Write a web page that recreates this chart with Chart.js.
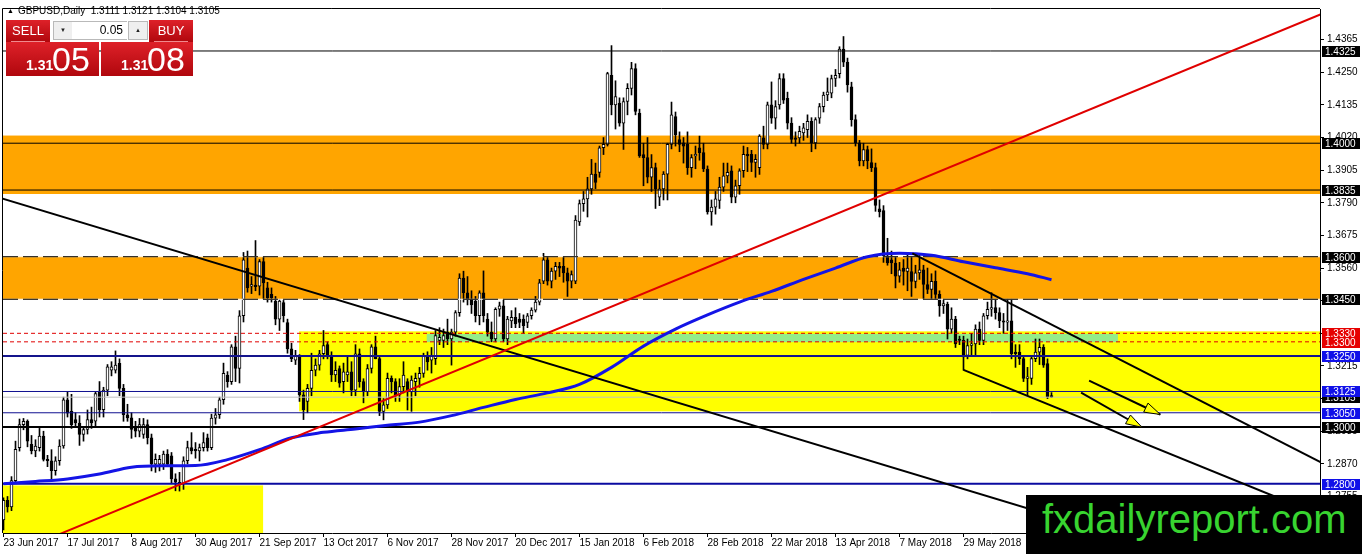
<!DOCTYPE html>
<html lang="en">
<head>
  <meta charset="UTF-8" />
  <title>GBPUSD, Daily</title>
  <script src="https://cdn.jsdelivr.net/npm/chart.js"></script>
  <style>
    html, body { margin: 0; padding: 0; background: #fff; }
    #wrap { position: relative; width: 1362px; height: 554px; overflow: hidden; font-family: 'Liberation Sans', Arial, sans-serif; }
    canvas { position: absolute; left: 0; top: 0; }
    .abs { position: absolute; }
    #head { left: 7px; top: 5px; font-size: 10px; line-height: 12px; color: #000; white-space: nowrap; }
    #head .tri { font-size: 7px; margin-right: 4px; vertical-align: 1px; }
    .red { background: linear-gradient(#de2129, #b0070d); color: #fff; }
    .btn { top: 20px; width: 44px; height: 22px; font-size: 13px; line-height: 21px; text-align: center; }
    .btn::after { content: ''; position: absolute; left: 5px; right: 5px; bottom: 0; height: 1px; background: #f08a8e; }
    #sellBtn { left: 6px; }
    #buyBtn { left: 149px; }
    .spin { top: 21px; width: 18px; height: 17px; background: #efefef; border: 1px solid #b9b9b9; font-size: 6px; line-height: 17px; text-align: center; color: #222; }
    #down { left: 53px; }
    #up { left: 128px; }
    #lot { left: 72px; top: 21px; width: 51px; height: 17px; padding-right: 4px; background: #fff; border-top: 1px solid #b9b9b9; border-bottom: 1px solid #b9b9b9; font-size: 12px; line-height: 17px; text-align: right; color: #000; }
    .px { top: 42px; height: 34px; }
    #sellPx { left: 6px; width: 93px; }
    #buyPx { left: 101px; width: 92px; }
    .px .s { position: absolute; left: 20px; top: 16px; font-size: 14px; line-height: 14px; font-weight: bold; }
    .px .b { position: absolute; left: 46px; top: 0; font-size: 34px; line-height: 34px; }
    #logo { left: 1026px; top: 495px; width: 336px; height: 59px; background: #000; }
    #logo span { position: absolute; left: 16px; top: 4px; font-size: 40px; line-height: 40px; color: #38d430; white-space: nowrap; }
  </style>
</head>
<body>
<div id="wrap">
  <canvas id="chart" width="1362" height="554"></canvas>
  <div id="head" class="abs"><span class="tri">&#9650;</span>GBPUSD,Daily&nbsp; 1.3111 1.3121 1.3104 1.3105</div>
  <div id="sellBtn" class="abs red btn">SELL</div>
  <div id="down" class="abs spin">&#9660;</div>
  <div id="lot" class="abs">0.05</div>
  <div id="up" class="abs spin">&#9650;</div>
  <div id="buyBtn" class="abs red btn">BUY</div>
  <div id="sellPx" class="abs red px"><span class="s">1.31</span><span class="b">05</span></div>
  <div id="buyPx" class="abs red px"><span class="s">1.31</span><span class="b">08</span></div>
  <div id="logo" class="abs"><span>fxdailyreport.com</span></div>
</div>

<script>
  // Daily bars, 23 Jun 2017 .. 28 Jun 2018 (bar index = position on the time axis)
  const opens = [
    1.2672,1.2741,1.2718,1.2811,1.2927,1.3008,1.3020,1.2939,1.2916,1.2927,
    1.2968,1.2886,1.2881,1.2846,1.2881,1.2933,1.3096,1.3055,1.3026,1.3014,
    1.2974,1.2991,1.3026,1.3020,1.3124,1.3061,1.3130,1.3200,1.3200,1.3224,
    1.3136,1.3043,1.3032,1.2997,1.2985,1.2974,1.3008,1.2962,1.2869,1.2869,
    1.2869,1.2904,1.2898,1.2817,1.2805,1.2799,1.2881,1.2927,1.2921,1.2916,
    1.2927,1.2962,1.2927,1.3031,1.3043,1.3096,1.3183,1.3160,1.3282,1.3206,
    1.3392,1.3560,1.3496,1.3500,1.3496,1.3583,1.3490,1.3467,1.3443,1.3380,
    1.3438,1.3368,1.3275,1.3235,1.3247,1.3113,1.3090,1.3136,1.3200,1.3218,
    1.3258,1.3290,1.3252,1.3183,1.3206,1.3160,1.3183,1.3194,1.3130,1.3258,
    1.3160,1.3124,1.3206,1.3282,1.3241,1.3055,1.3078,1.3171,1.3160,1.3113,
    1.3142,1.3160,1.3124,1.3160,1.3171,1.3189,1.3247,1.3235,1.3241,1.3305,
    1.3305,1.3334,1.3310,1.3334,1.3403,1.3525,1.3473,1.3450,1.3444,1.3392,
    1.3473,1.3380,1.3334,1.3310,1.3415,1.3427,1.3310,1.3374,1.3386,1.3380,
    1.3380,1.3368,1.3392,1.3412,1.3440,1.3514,1.3589,1.3514,1.3549,1.3566,
    1.3566,1.3543,1.3514,1.3514,1.3723,1.3787,1.3804,1.3839,1.3891,1.3897,
    1.3984,1.3996,1.4239,1.4135,1.4141,1.4071,1.4147,1.4193,1.4263,1.4106,
    1.3960,1.3949,1.3880,1.3914,1.3810,1.3839,1.3891,1.3996,1.4094,1.4013,
    1.4001,1.3996,1.3914,1.3955,1.3984,1.3967,1.3909,1.3758,1.3775,1.3798,
    1.3845,1.3885,1.3903,1.3810,1.3850,1.3903,1.3961,1.3961,1.3932,1.3914,
    1.4019,1.3996,1.4135,1.4088,1.4135,1.4228,1.4158,1.4071,1.4019,1.4019,
    1.4036,1.4048,1.4077,1.4001,1.4088,1.4129,1.4170,1.4176,1.4228,1.4245,
    1.4332,1.4286,1.4199,1.4083,1.4001,1.3938,1.3978,1.3932,1.3914,1.3769,
    1.3763,1.3601,1.3589,1.3578,1.3531,1.3560,1.3548,1.3548,1.3513,1.3543,
    1.3554,1.3502,1.3485,1.3513,1.3467,1.3427,1.3432,1.3345,1.3380,1.3310,
    1.3305,1.3252,1.3287,1.3293,1.3345,1.3305,1.3392,1.3415,1.3421,1.3403,
    1.3374,1.3369,1.3374,1.3264,1.3264,1.3241,1.3171,1.3171,1.3241,1.3264,
    1.3281,1.3223,1.3111
  ];
  const highs = [
    1.2750,1.2755,1.2825,1.2950,1.3028,1.3030,1.3025,1.2970,1.2955,1.2995,
    1.2985,1.2900,1.2920,1.2895,1.2955,1.3105,1.3125,1.3115,1.3050,1.3040,
    1.3000,1.3060,1.3070,1.3125,1.3160,1.3140,1.3220,1.3230,1.3268,1.3240,
    1.3150,1.3080,1.3050,1.3020,1.3030,1.3030,1.3025,1.2975,1.2905,1.2900,
    1.2915,1.2920,1.2910,1.2835,1.2840,1.2895,1.2950,1.2980,1.2945,1.2940,
    1.2980,1.2975,1.3045,1.3065,1.3105,1.3225,1.3195,1.3290,1.3320,1.3410,
    1.3615,1.3620,1.3530,1.3657,1.3590,1.3600,1.3510,1.3490,1.3460,1.3450,
    1.3446,1.3380,1.3295,1.3270,1.3255,1.3130,1.3150,1.3260,1.3240,1.3270,
    1.3340,1.3300,1.3265,1.3230,1.3215,1.3225,1.3250,1.3230,1.3290,1.3275,
    1.3170,1.3220,1.3290,1.3320,1.3250,1.3100,1.3190,1.3180,1.3170,1.3170,
    1.3230,1.3170,1.3180,1.3190,1.3210,1.3260,1.3265,1.3280,1.3340,1.3350,
    1.3345,1.3380,1.3345,1.3410,1.3540,1.3549,1.3530,1.3480,1.3460,1.3480,
    1.3550,1.3400,1.3370,1.3420,1.3440,1.3450,1.3390,1.3410,1.3420,1.3400,
    1.3395,1.3400,1.3420,1.3460,1.3520,1.3612,1.3600,1.3560,1.3580,1.3580,
    1.3600,1.3560,1.3550,1.3745,1.3800,1.3830,1.3880,1.3943,1.3930,1.3990,
    1.4020,1.4250,1.4344,1.4220,1.4160,1.4160,1.4210,1.4285,1.4280,1.4120,
    1.4000,1.4020,1.3960,1.3930,1.3870,1.3900,1.4000,1.4145,1.4110,1.4040,
    1.4020,1.4040,1.3960,1.3990,1.4025,1.4000,1.3920,1.3800,1.3830,1.3880,
    1.3930,1.3930,1.3920,1.3870,1.3910,1.3990,1.3985,1.3975,1.3960,1.4030,
    1.4060,1.4145,1.4216,1.4150,1.4245,1.4245,1.4180,1.4090,1.4040,1.4060,
    1.4070,1.4100,1.4090,1.4090,1.4140,1.4180,1.4230,1.4240,1.4260,1.4340,
    1.4376,1.4300,1.4215,1.4100,1.4010,1.4000,1.3990,1.3980,1.3930,1.3800,
    1.3780,1.3665,1.3620,1.3600,1.3580,1.3590,1.3610,1.3600,1.3570,1.3610,
    1.3570,1.3560,1.3540,1.3550,1.3480,1.3450,1.3440,1.3420,1.3390,1.3320,
    1.3320,1.3310,1.3330,1.3360,1.3370,1.3400,1.3440,1.3473,1.3450,1.3420,
    1.3400,1.3450,1.3450,1.3290,1.3290,1.3250,1.3210,1.3250,1.3310,1.3310,
    1.3290,1.3240,1.3121
  ];
  const lows = [
    1.2637,1.2700,1.2705,1.2800,1.2915,1.2990,1.2930,1.2905,1.2895,1.2915,
    1.2880,1.2860,1.2812,1.2830,1.2865,1.2925,1.3035,1.2995,1.3000,1.2935,
    1.2950,1.2975,1.2995,1.3000,1.3035,1.3035,1.3110,1.3180,1.3190,1.3110,
    1.3020,1.3020,1.2960,1.2965,1.2965,1.2960,1.2940,1.2845,1.2840,1.2845,
    1.2850,1.2860,1.2800,1.2775,1.2774,1.2780,1.2870,1.2905,1.2890,1.2880,
    1.2915,1.2915,1.2920,1.3010,1.3030,1.3080,1.3140,1.3150,1.3160,1.3155,
    1.3370,1.3475,1.3470,1.3480,1.3465,1.3450,1.3440,1.3440,1.3360,1.3340,
    1.3370,1.3260,1.3230,1.3220,1.3090,1.3026,1.3050,1.3110,1.3180,1.3200,
    1.3240,1.3240,1.3160,1.3160,1.3140,1.3120,1.3160,1.3110,1.3110,1.3140,
    1.3085,1.3110,1.3190,1.3240,1.3040,1.3025,1.3065,1.3120,1.3090,1.3090,
    1.3120,1.3060,1.3055,1.3110,1.3140,1.3175,1.3200,1.3190,1.3220,1.3290,
    1.3280,1.3290,1.3218,1.3320,1.3390,1.3440,1.3430,1.3400,1.3370,1.3360,
    1.3370,1.3320,1.3300,1.3300,1.3390,1.3300,1.3290,1.3350,1.3350,1.3350,
    1.3330,1.3350,1.3380,1.3405,1.3430,1.3505,1.3500,1.3490,1.3520,1.3530,
    1.3510,1.3460,1.3490,1.3505,1.3710,1.3760,1.3740,1.3820,1.3840,1.3880,
    1.3960,1.3990,1.4100,1.4050,1.4060,1.3978,1.4100,1.4170,1.4100,1.3950,
    1.3850,1.3860,1.3830,1.3770,1.3780,1.3800,1.3800,1.3980,1.3990,1.3970,
    1.3930,1.3890,1.3880,1.3910,1.3940,1.3900,1.3750,1.3711,1.3750,1.3770,
    1.3830,1.3860,1.3790,1.3790,1.3820,1.3880,1.3900,1.3900,1.3880,1.3890,
    1.3980,1.3980,1.4070,1.4050,1.4120,1.4140,1.4050,1.4000,1.3990,1.4000,
    1.4010,1.4020,1.3970,1.3980,1.4070,1.4110,1.4150,1.4160,1.4200,1.4230,
    1.4270,1.4180,1.4060,1.3990,1.3920,1.3920,1.3910,1.3900,1.3760,1.3740,
    1.3580,1.3570,1.3540,1.3490,1.3510,1.3500,1.3480,1.3460,1.3490,1.3520,
    1.3450,1.3470,1.3450,1.3450,1.3390,1.3400,1.3310,1.3330,1.3280,1.3290,
    1.3200,1.3240,1.3250,1.3250,1.3290,1.3290,1.3380,1.3390,1.3380,1.3350,
    1.3330,1.3340,1.3240,1.3210,1.3220,1.3160,1.3110,1.3150,1.3230,1.3220,
    1.3210,1.3100,1.3104
  ];
  const closes = [
    1.2741,1.2718,1.2811,1.2921,1.3008,1.3020,1.2950,1.2916,1.2933,1.2968,
    1.2886,1.2881,1.2846,1.2881,1.2933,1.3096,1.3049,1.3008,1.3014,1.2974,
    1.2991,1.3026,1.3014,1.3118,1.3061,1.3130,1.3212,1.3212,1.3218,1.3136,
    1.3043,1.3032,1.2991,1.2985,1.3008,1.3008,1.2962,1.2869,1.2886,1.2886,
    1.2904,1.2869,1.2817,1.2805,1.2799,1.2881,1.2927,1.2916,1.2916,1.2927,
    1.2945,1.2927,1.3031,1.3043,1.3096,1.3189,1.3160,1.3282,1.3206,1.3392,
    1.3589,1.3490,1.3502,1.3494,1.3583,1.3508,1.3456,1.3456,1.3380,1.3444,
    1.3392,1.3275,1.3241,1.3252,1.3113,1.3061,1.3136,1.3200,1.3218,1.3258,
    1.3287,1.3252,1.3183,1.3200,1.3154,1.3194,1.3194,1.3130,1.3258,1.3160,
    1.3124,1.3206,1.3282,1.3241,1.3055,1.3078,1.3171,1.3160,1.3113,1.3142,
    1.3183,1.3124,1.3165,1.3171,1.3189,1.3252,1.3229,1.3252,1.3322,1.3316,
    1.3322,1.3310,1.3334,1.3403,1.3525,1.3473,1.3450,1.3430,1.3392,1.3473,
    1.3392,1.3334,1.3310,1.3415,1.3427,1.3310,1.3380,1.3386,1.3363,1.3368,
    1.3357,1.3392,1.3412,1.3440,1.3508,1.3589,1.3514,1.3549,1.3566,1.3560,
    1.3543,1.3514,1.3537,1.3729,1.3787,1.3804,1.3839,1.3891,1.3862,1.3984,
    1.3996,1.4245,1.4135,1.4164,1.4071,1.4147,1.4193,1.4263,1.4112,1.3955,
    1.3949,1.3880,1.3914,1.3839,1.3839,1.3891,1.3996,1.4100,1.4030,1.3996,
    1.3990,1.3914,1.3949,1.3961,1.3967,1.3909,1.3758,1.3775,1.3804,1.3845,
    1.3885,1.3897,1.3810,1.3850,1.3903,1.3961,1.3955,1.3932,1.3943,1.4025,
    1.3996,1.4135,1.4088,1.4129,1.4228,1.4152,1.4071,1.4013,1.4013,1.4042,
    1.4054,1.4077,1.4001,1.4083,1.4129,1.4170,1.4181,1.4228,1.4239,1.4332,
    1.4286,1.4205,1.4083,1.4001,1.3938,1.3978,1.3938,1.3914,1.3781,1.3758,
    1.3601,1.3578,1.3578,1.3531,1.3554,1.3548,1.3560,1.3513,1.3543,1.3554,
    1.3502,1.3485,1.3513,1.3467,1.3427,1.3435,1.3345,1.3380,1.3293,1.3305,
    1.3247,1.3287,1.3293,1.3345,1.3305,1.3392,1.3415,1.3421,1.3403,1.3374,
    1.3369,1.3374,1.3258,1.3258,1.3241,1.3171,1.3177,1.3241,1.3264,1.3281,
    1.3218,1.3107,1.3105
  ];

  // time axis labels (every 16 bars)
  const labelBars = [0, 16, 32, 48, 64, 80, 96, 112, 128, 144, 160, 176, 192, 208, 224, 240];
  const dayLabels = ['23 Jun 2017', '17 Jul 2017', '8 Aug 2017', '30 Aug 2017', '21 Sep 2017', '13 Oct 2017',
    '6 Nov 2017', '28 Nov 2017', '20 Dec 2017', '15 Jan 2018', '6 Feb 2018', '28 Feb 2018',
    '22 Mar 2018', '13 Apr 2018', '7 May 2018', '29 May 2018'];
  const priceTicks = [1.4365, 1.4250, 1.4135, 1.4020, 1.3905, 1.3790, 1.3675, 1.3560, 1.3445,
    1.3330, 1.3215, 1.3100, 1.2985, 1.2870, 1.2755];

  // moving average, read every 8 bars
  const maBars = [0, 8, 16, 24, 32, 40, 48, 56, 64, 72, 80, 88, 96, 104, 112, 120, 128, 136,
    144, 152, 160, 168, 176, 184, 192, 200, 208, 216, 224, 232, 240, 248, 256, 262];
  const maValues = [1.2800, 1.2808, 1.2817, 1.2834, 1.2858, 1.2863, 1.2864, 1.2885, 1.2920, 1.2962,
    1.2981, 1.2993, 1.3006, 1.3017, 1.3040, 1.3069, 1.3097, 1.3120, 1.3150, 1.3210, 1.3285, 1.3345,
    1.3395, 1.3440, 1.3478, 1.3520, 1.3560, 1.3600, 1.3612, 1.3605, 1.3582, 1.3561, 1.3540, 1.3519];

  // horizontal levels
  const blackLevels = [1.4325, 1.4000, 1.3835];
  const dashedLevels = [1.3600, 1.3450];
  const redLevels = [1.3330, 1.3300];
  const blueLevels = [1.3250, 1.3125, 1.3050, 1.2800];
  const roundLevel = 1.3000;
  const bidPrice = 1.3105;

  // zones: [fromBar, toBar, topPrice, bottomPrice]
  const orangeZones = [[-1, 331, 1.4027, 1.3821], [-1, 331, 1.3602, 1.3449]];
  const yellowZones = [[73.9, 331, 1.3337, 1.3055], [-1, 64.9, 1.2794, 1.2500]];
  const greenZone = [105.8, 278.6, 1.3328, 1.3299];

  // trend lines: [bar, price, bar, price]
  const redTrend = [10, 1.2599, 330, 1.4458];
  const longTrend = [-1, 1.3808, 330, 1.2398];
  const channelTop = [227.2, 1.3612, 330, 1.2871];
  const channelBottom = [240, 1.3201, 330, 1.2685];
  const arrows = [[271.4, 1.3163, 289.2, 1.3044], [269.4, 1.3121, 284.6, 1.2999]];

  const xMin = -0.125, xMax = 329.125;
  const yMin = 1.26263, yMax = 1.44730;
  const tickFont = { family: 'Liberation Sans', size: 10 };

  const bars = closes.map((c, i) => i);

  function segment(p, color, width, order, dash) {
    return {
      type: 'line',
      data: [{ x: p[0], y: p[1] }, { x: p[2], y: p[3] }],
      borderColor: color, borderWidth: width, borderDash: dash || [],
      pointRadius: 0, order: order
    };
  }
  function level(v, color, width, order, dash) {
    return segment([xMin, v, xMax, v], color, width, order, dash);
  }

  const datasets = [
    {
      type: 'bar', data: bars.map(i => ({ x: i, y: [lows[i], highs[i]] })),
      backgroundColor: '#000', borderWidth: 0, barThickness: 1, grouped: false, order: 11
    },
    {
      type: 'bar', data: bars.map(i => ({ x: i, y: [opens[i], closes[i]] })),
      backgroundColor: bars.map(i => closes[i] >= opens[i] ? '#fff' : '#000'),
      borderColor: '#000', borderWidth: 1, borderSkipped: false, barThickness: 3,
      minBarLength: 1, grouped: false, order: 10
    }
  ];
  blackLevels.forEach(v => datasets.push(level(v, '#000', 1, 5)));
  dashedLevels.forEach(v => {
    datasets.push(level(v, '#fff', 1, 6));
    datasets.push(level(v, '#000', 1, 5, [15, 5]));
  });
  redLevels.forEach(v => datasets.push(level(v, '#e00000', 1, 5, [4, 3])));
  datasets.push(level(bidPrice, '#c0c0c0', 1, 5));
  datasets.push(level(blueLevels[0], '#14148c', 2, 5));
  datasets.push(level(blueLevels[1], '#101090', 1, 5));
  datasets.push(level(blueLevels[2], '#101090', 1, 5));
  datasets.push(level(blueLevels[3], '#0a0aa0', 2, 5));
  datasets.push(level(roundLevel, '#000', 2, 5));
  datasets.push({
    type: 'line', data: maBars.map((b, k) => ({ x: b, y: maValues[k] })),
    borderColor: '#1414e6', borderWidth: 3, pointRadius: 0,
    cubicInterpolationMode: 'monotone', order: 3
  });
  datasets.push(segment(redTrend, '#e00000', 2, 2));
  datasets.push(segment(longTrend, '#000', 2, 2));
  datasets.push(segment(channelTop, '#000', 2, 2));
  datasets.push(segment(channelBottom, '#000', 2, 2));
  arrows.forEach(a => datasets.push(segment(a, '#000', 2, 1)));

  // rectangles behind the candles
  const zonePlugin = {
    id: 'zones',
    beforeDatasetsDraw(chart) {
      const { ctx, chartArea: a, scales: { x, y } } = chart;
      const box = (z, color) => {
        const l = Math.max(a.left, x.getPixelForValue(z[0]));
        const r = Math.min(a.right, x.getPixelForValue(z[1]));
        const t = Math.max(a.top, y.getPixelForValue(z[2]));
        const b = Math.min(a.bottom, y.getPixelForValue(z[3]));
        ctx.fillStyle = color;
        ctx.fillRect(l, t, r - l, b - t);
      };
      ctx.save();
      orangeZones.forEach(z => box(z, '#ffa500'));
      yellowZones.forEach(z => box(z, '#ffff00'));
      box(greenZone, '#94ec8a');
      ctx.restore();
    }
  };

  // arrow heads
  const arrowPlugin = {
    id: 'arrowHeads',
    afterDatasetsDraw(chart) {
      const { ctx, scales: { x, y } } = chart;
      ctx.save();
      arrows.forEach(a => {
        const x0 = x.getPixelForValue(a[0]), y0 = y.getPixelForValue(a[1]);
        const x1 = x.getPixelForValue(a[2]), y1 = y.getPixelForValue(a[3]);
        const ang = Math.atan2(y1 - y0, x1 - x0);
        const len = 16, half = 5;
        const bx = x1 - len * Math.cos(ang), by = y1 - len * Math.sin(ang);
        ctx.beginPath();
        ctx.moveTo(x1, y1);
        ctx.lineTo(bx - half * Math.sin(ang), by + half * Math.cos(ang));
        ctx.lineTo(bx + half * Math.sin(ang), by - half * Math.cos(ang));
        ctx.closePath();
        ctx.fillStyle = '#ffff00';
        ctx.fill();
        ctx.strokeStyle = '#000';
        ctx.lineWidth = 1;
        ctx.stroke();
      });
      ctx.restore();
    }
  };

  // price tags on the axis, frame
  const tagPlugin = {
    id: 'tags',
    afterDraw(chart) {
      const { ctx, chartArea: a, scales: { y } } = chart;
      const left = a.right + 2;
      ctx.save();
      ctx.font = '10px "Liberation Sans"';
      ctx.textBaseline = 'middle';
      const tag = (v, bg) => {
        const py = Math.round(y.getPixelForValue(v));
        ctx.fillStyle = bg;
        ctx.fillRect(left, py - 5, 38, 11);
        ctx.fillStyle = '#fff';
        ctx.fillText(v.toFixed(4), left + 3, py + 1);
      };
      blackLevels.forEach(v => tag(v, '#000'));
      dashedLevels.forEach(v => tag(v, '#000'));
      redLevels.forEach(v => tag(v, '#e60000'));
      tag(bidPrice, '#000');
      blueLevels.forEach(v => tag(v, '#1010e8'));
      tag(roundLevel, '#000');
      ctx.strokeStyle = '#000';
      ctx.lineWidth = 1;
      ctx.beginPath();
      ctx.moveTo(a.left - 0.5, a.bottom);
      ctx.lineTo(a.left - 0.5, a.top - 0.5);
      ctx.lineTo(a.right, a.top - 0.5);
      ctx.stroke();
      ctx.restore();
    }
  };

  new Chart(document.getElementById('chart'), {
    type: 'bar',
    data: { datasets },
    options: {
      responsive: false,
      animation: false,
      devicePixelRatio: 1,
      events: [],
      layout: { padding: { left: 3, top: 3, right: 0, bottom: 0 } },
      plugins: { legend: { display: false }, tooltip: { enabled: false } },
      scales: {
        x: {
          type: 'linear', min: xMin, max: xMax, offset: false,
          grid: { drawOnChartArea: false, tickLength: 4, color: '#000', offset: false },
          border: { color: '#000', width: 1 },
          ticks: {
            autoSkip: false, maxRotation: 0, align: 'start', padding: 0,
            color: '#000', font: tickFont,
            callback: v => { const k = labelBars.indexOf(v); return k >= 0 ? dayLabels[k] : ''; }
          },
          afterBuildTicks: s => { s.ticks = labelBars.map(v => ({ value: v })); },
          afterFit: s => { s.height = 21; }
        },
        y: {
          type: 'linear', position: 'right', min: yMin, max: yMax,
          grid: { drawOnChartArea: false, tickLength: 4, color: '#000' },
          border: { color: '#000', width: 1 },
          ticks: { autoSkip: false, padding: 3, color: '#000', font: tickFont, callback: v => v.toFixed(4) },
          afterBuildTicks: s => { s.ticks = priceTicks.map(v => ({ value: v })); },
          afterFit: s => { s.width = 42; }
        }
      }
    },
    plugins: [zonePlugin, arrowPlugin, tagPlugin]
  });
</script>
</body>
</html>
